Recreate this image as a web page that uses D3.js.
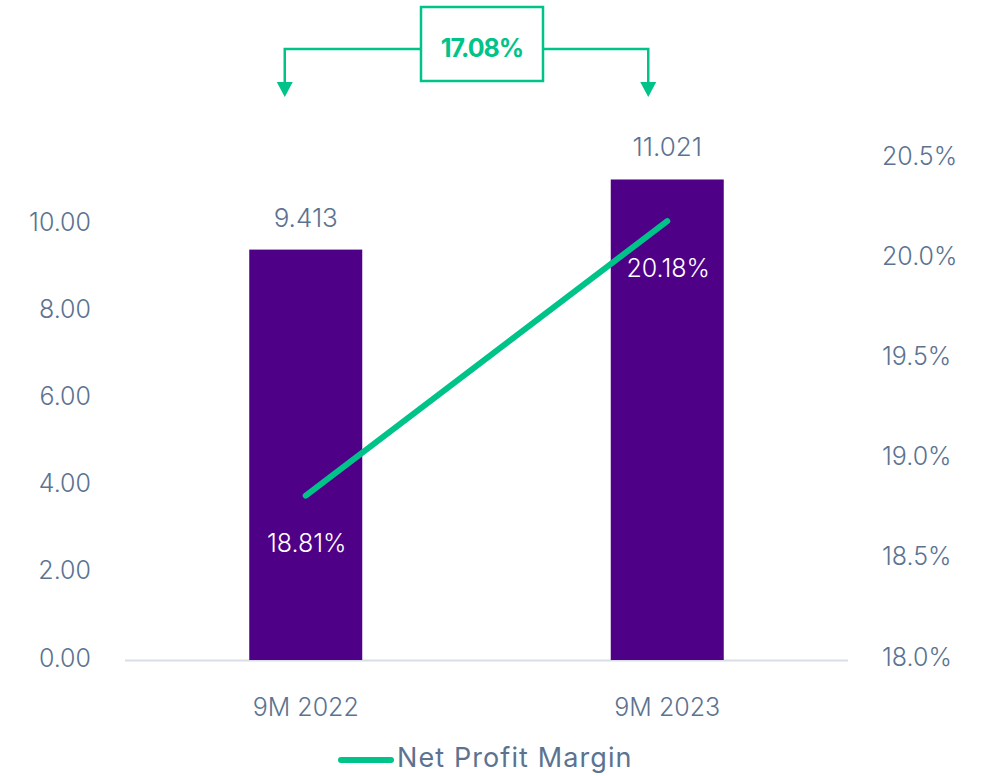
<!DOCTYPE html>
<html>
<head>
<meta charset="utf-8">
<script src="https://cdn.jsdelivr.net/npm/d3@7"></script>
<style>
  html, body { margin: 0; padding: 0; background: #fff; }
  svg { display: block; font-family: Inter, "Noto Sans", sans-serif; }
</style>
</head>
<body>
<svg id="chart" width="981" height="776"></svg>
<script>
const categories = ["9M 2022", "9M 2023"];
const netProfit = [9.413, 11.021];
const netProfitLabels = ["9.413", "11.021"];
const margin = [18.81, 20.18];
const marginLabels = ["18.81%", "20.18%"];
const leftTicks = [0, 2, 4, 6, 8, 10];
const rightTicks = [18.0, 18.5, 19.0, 19.5, 20.0, 20.5];
const growthLabel = "17.08%";
const legendLabel = "Net Profit Margin";

const textColor = "#5b7391";
const barColor = "#4e0087";
const lineColor = "#00c389";

const svg = d3.select("#chart");

const x = d3.scaleBand().domain(categories).range([125, 848]).padding(0);
const barW = 113;
const yL = d3.scaleLinear().domain([0, 10]).range([660, 224]);
const yR = d3.scaleLinear().domain([18, 20.5]).range([658, 157]);

// baseline
svg.append("line").attr("x1", 125).attr("x2", 848).attr("y1", 660.5).attr("y2", 660.5)
  .attr("stroke", "#d9dee6").attr("stroke-width", 2);

// left axis
const gl = svg.append("g").attr("transform", "translate(91,-2)")
  .call(d3.axisLeft(yL).tickValues(leftTicks).tickFormat(d3.format(".2f")).tickSize(0).tickPadding(0));
gl.select(".domain").remove();
gl.selectAll("text").attr("fill", textColor).attr("font-size", 25).attr("font-weight", 300)
  .attr("font-family", "Inter, sans-serif");

// right axis
const gr = svg.append("g").attr("transform", "translate(882,-1)")
  .call(d3.axisRight(yR).tickValues(rightTicks).tickFormat(d => d3.format(".1f")(d) + "%").tickSize(0).tickPadding(0));
gr.select(".domain").remove();
gr.selectAll("text").attr("fill", textColor).attr("font-size", 25).attr("font-weight", 300)
  .attr("font-family", "Inter, sans-serif");

// bars
const cx = c => x(c) + x.bandwidth() / 2;
svg.selectAll("rect.bar").data(categories).join("rect").attr("class", "bar")
  .attr("x", d => cx(d) - barW / 2)
  .attr("width", barW)
  .attr("y", (d, i) => yL(netProfit[i]))
  .attr("height", (d, i) => yL(0) - yL(netProfit[i]))
  .attr("fill", barColor);

// bar labels
svg.selectAll("text.bl").data(categories).join("text").attr("class", "bl")
  .attr("x", d => cx(d))
  .attr("y", (d, i) => yL(netProfit[i]) - 23)
  .attr("text-anchor", "middle")
  .attr("fill", textColor).attr("font-size", 26).attr("font-weight", 300)
  .text((d, i) => netProfitLabels[i]);

// category labels
svg.selectAll("text.cat").data(categories).join("text").attr("class", "cat")
  .attr("x", d => cx(d)).attr("y", 716)
  .attr("text-anchor", "middle")
  .attr("fill", textColor).attr("font-size", 25).attr("font-weight", 300)
  .text(d => d);

// line
const line = d3.line().x((d, i) => cx(categories[i])).y(d => yR(d));
svg.append("path").datum(margin).attr("d", line)
  .attr("fill", "none").attr("stroke", lineColor).attr("stroke-width", 6).attr("stroke-linecap", "round");

// margin labels
svg.selectAll("text.ml").data(categories).join("text").attr("class", "ml")
  .attr("x", d => cx(d) + 1)
  .attr("y", (d, i) => yR(margin[i]) + 56)
  .attr("text-anchor", "middle")
  .attr("fill", "#ffffff").attr("font-size", 25).attr("font-weight", 300)
  .text((d, i) => marginLabels[i]);

// legend
svg.append("line").attr("x1", 341).attr("x2", 391).attr("y1", 760).attr("y2", 760)
  .attr("stroke", lineColor).attr("stroke-width", 6).attr("stroke-linecap", "round");
svg.append("text").attr("x", 397).attr("y", 767)
  .attr("fill", textColor).attr("font-size", 27).attr("font-weight", 400).attr("letter-spacing", 1.1)
  .text(legendLabel);

// growth annotation
const ax1 = cx(categories[0]) - 21, ax2 = cx(categories[1]) - 19;
const hy = 49, boxL = 421, boxR = 543;
svg.append("path")
  .attr("d", `M${boxL},${hy} H${ax1} V${83} M${boxR},${hy} H${ax2} V${83}`)
  .attr("fill", "none").attr("stroke", lineColor).attr("stroke-width", 2.5);
[ax1, ax2].forEach(ax => {
  svg.append("path").attr("d", `M${ax - 8},${82} L${ax + 8},${82} L${ax},${97} Z`).attr("fill", lineColor);
});
svg.append("rect").attr("x", boxL).attr("y", 7).attr("width", boxR - boxL).attr("height", 74)
  .attr("fill", "#fff").attr("stroke", lineColor).attr("stroke-width", 2.5);
svg.append("text").attr("x", (boxL + boxR) / 2).attr("y", 57).attr("text-anchor", "middle")
  .attr("fill", lineColor).attr("font-size", 25).attr("font-weight", 700).attr("letter-spacing", -1)
  .text(growthLabel);
</script>
</body>
</html>
